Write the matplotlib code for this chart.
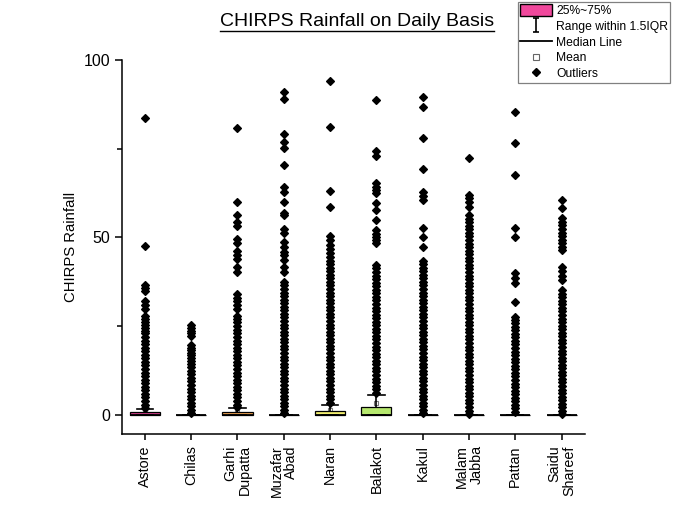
import matplotlib.pyplot as plt
from matplotlib.patches import Patch
from matplotlib.lines import Line2D
from matplotlib.path import Path

plt.rcParams['font.family'] = ['Liberation Sans', 'DejaVu Sans']

# stations (x categories)
stations = ['Astore', 'Chilas', 'Garhi\nDupatta', 'Muzafar\nAbad', 'Naran',
            'Balakot', 'Kakul', 'Malam\nJabba', 'Pattan', 'Saidu\nShareef']

# box statistics
q1 = [0, 0, 0, 0, 0, 0, 0, 0, 0, 0]
median = [0, 0, 0, 0, 0, 0, 0, 0, 0, 0]
q3 = [0.9, 0, 1.0, 0, 1.3, 2.3, 0, 0, 0, 0]
whis_lo = [0, 0, 0, 0, 0, 0, 0, 0, 0, 0]
whis_hi = [1.8, 0, 2.0, 0, 2.8, 5.8, 0, 0, 0, 0]
mean = [1.0, 0.6, 1.2, 2.0, 1.5, 3.5, 2.0, 1.8, 1.0, 1.5]

# outliers per station
out_astore = [83.5, 47.5, 36.5, 35.8, 35.0, 32.0, 31.0, 30.0, 28.0, 27.0, 26.3, 25.5,
              24.5, 23.8, 23.0, 22.0, 21.0, 20.0, 19.0, 18.0, 17.0, 16.0, 15.0, 14.0,
              13.0, 12.0, 11.0, 10.0, 9.0, 8.0, 7.0, 6.0, 5.0, 4.0, 3.0, 2.1]
out_chilas = [25.3, 24.5, 23.8, 23.0, 22.3, 19.7, 19.0, 18.3, 17.5, 16.8, 16.0, 15.3,
              14.5, 13.5, 12.5, 11.5, 10.5, 9.5, 8.5, 7.5, 6.5, 5.5, 4.5, 3.5, 2.5,
              1.5, 0.5]
out_garhi = [80.8, 59.9, 56.2, 54.5, 53.1, 49.5, 48.4, 46.3, 45.1, 43.9, 41.8, 40.4,
             34.0, 33.0, 32.0, 31.0, 30.0, 28.0, 27.0, 26.3, 25.0, 24.0, 23.0, 22.0,
             21.0, 20.0, 19.0, 18.0, 17.0, 16.0, 15.0, 14.0, 13.0, 12.0, 11.0, 10.0,
             9.0, 8.0, 7.0, 6.0, 5.0, 4.0, 3.0, 2.2]
out_muzafar = [90.8, 88.9, 79.1, 76.8, 75.3, 70.4, 64.3, 62.9, 60.1, 57.0, 56.4, 52.3,
               51.2, 48.8, 47.4, 46.0, 45.0, 43.7, 41.8, 40.4, 37.5, 36.5, 35.5, 34.5,
               33.5, 32.5, 31.5, 30.5, 29.5, 28.5, 27.5, 26.5, 25.5, 24.5, 23.5, 22.5,
               21.5, 20.5, 19.5, 18.5, 17.5, 16.5, 15.5, 14.5, 13.5, 12.5, 11.5, 10.5,
               9.5, 8.5, 7.5, 6.5, 5.5, 4.5, 3.5, 2.5, 1.5, 0.5]
out_naran = [93.9, 81.2, 63.2, 58.7, 50.4, 49.3, 48.0, 46.8, 45.5, 44.6, 43.5, 42.5,
             41.5, 40.5, 39.5, 38.5, 37.5, 36.5, 35.5, 34.5, 33.5, 32.5, 31.5, 30.5,
             29.5, 28.5, 27.5, 26.5, 25.5, 24.5, 23.5, 22.5, 21.5, 20.5, 19.5, 18.5,
             17.5, 16.5, 15.5, 14.5, 13.5, 12.5, 11.5, 10.5, 9.5, 8.5, 7.5, 6.5, 5.5,
             4.5, 3.5]
out_balakot = [88.7, 74.2, 72.8, 65.3, 64.3, 63.4, 62.5, 59.8, 57.6, 54.9, 52.1, 51.0,
               50.0, 49.2, 48.4, 42.3, 41.3, 40.3, 39.3, 38.3, 37.3, 36.3, 35.3, 34.3,
               33.3, 32.3, 31.3, 30.3, 29.3, 28.3, 27.3, 26.3, 25.3, 24.3, 23.3, 22.3,
               21.3, 20.3, 19.3, 18.3, 17.3, 16.3, 15.3, 14.3, 13.3, 12.3, 11.3, 10.3,
               9.3, 8.3, 7.3, 6.3]
out_kakul = [89.5, 86.8, 77.9, 69.3, 62.9, 61.8, 60.6, 52.6, 50.2, 47.4, 43.5, 42.5,
             41.5, 40.5, 39.5, 38.5, 37.5, 36.5, 35.5, 34.5, 33.5, 32.5, 31.5, 30.5,
             29.5, 28.5, 27.5, 26.5, 25.5, 24.5, 23.5, 22.5, 21.5, 20.5, 19.5, 18.5,
             17.5, 16.5, 15.5, 14.5, 13.5, 12.5, 11.5, 10.5, 9.5, 8.5, 7.5, 6.5, 5.5,
             4.5, 3.5, 2.5, 1.5, 0.5]
out_malam = [72.3, 62.0, 61.0, 60.0, 58.7, 56.3, 55.3, 54.3, 53.3, 52.3, 51.3, 50.3,
             49.3, 48.3, 47.3, 46.3, 45.3, 44.3, 43.3, 42.3, 41.3, 40.3, 39.3, 38.3,
             37.3, 36.3, 35.3, 34.3, 33.3, 32.3, 31.3, 30.3, 29.3, 28.3, 27.3, 26.3,
             25.3, 24.3, 23.3, 22.3, 21.3, 20.3, 19.3, 18.3, 17.3, 16.3, 15.3, 14.3,
             13.3, 12.3, 11.3, 10.3, 9.3, 8.3, 7.3, 6.3, 5.3, 4.3, 3.3, 2.3, 1.3, 0.3]
out_pattan = [85.4, 76.5, 67.6, 52.6, 50.2, 39.9, 38.5, 37.1, 31.8, 27.7, 26.8, 25.8,
              24.9, 23.9, 22.9, 21.9, 20.9, 19.9, 18.9, 17.9, 16.9, 15.9, 14.9, 13.9,
              12.9, 11.9, 10.9, 9.9, 8.9, 7.9, 6.9, 5.9, 4.9, 3.9, 2.9, 1.9, 0.9]
out_saidu = [60.6, 58.2, 55.4, 54.4, 53.4, 52.4, 51.4, 50.4, 49.4, 48.4, 47.4, 46.5,
             41.8, 40.5, 39.2, 38.0, 35.2, 34.2, 33.2, 32.2, 31.2, 30.2, 29.2, 28.2,
             27.2, 26.2, 25.2, 24.2, 23.2, 22.2, 21.2, 20.2, 19.2, 18.2, 17.2, 16.2,
             15.2, 14.2, 13.2, 12.2, 11.2, 10.2, 9.2, 8.2, 7.2, 6.2, 5.2, 4.2, 3.2,
             2.2, 1.2, 0.2]

outliers = [out_astore, out_chilas, out_garhi, out_muzafar, out_naran,
            out_balakot, out_kakul, out_malam, out_pattan, out_saidu]

box_colors = ['#d23c8a', '#f06a6a', '#f0a352', '#f2c95a', '#f2ee70',
              '#b6e86e', '#7ed6a0', '#6cc4e8', '#8a8ae8', '#c88ae8']

stats = []
for i in range(len(stations)):
    stats.append(dict(label=stations[i], q1=q1[i], med=median[i], q3=q3[i],
                      whislo=whis_lo[i], whishi=whis_hi[i], mean=mean[i],
                      fliers=outliers[i]))

fig = plt.figure(figsize=(6.8, 5.2), dpi=100)
ax = fig.add_axes([0.179, 0.165, 0.681, 0.72])

positions = list(range(1, len(stations) + 1))
bp = ax.bxp(stats, positions=positions, widths=0.65, capwidths=0.35,
            patch_artist=True, showmeans=True,
            boxprops=dict(edgecolor='black', linewidth=0.9),
            medianprops=dict(color='black', linewidth=1.3),
            whiskerprops=dict(color='black', linewidth=1.2),
            capprops=dict(color='black', linewidth=1.2),
            meanprops=dict(marker='s', markerfacecolor='white', markeredgecolor='#777777',
                           markersize=3.5, markeredgewidth=0.8, zorder=1.5),
            flierprops=dict(marker='D', markerfacecolor='black', markeredgecolor='black',
                            markersize=4.4, markeredgewidth=0.9, linestyle='none'))
for patch, c in zip(bp['boxes'], box_colors):
    patch.set_facecolor(c)

ax.set_xlim(0.5, 10.5)
ax.set_ylim(-5.35, 100)
ax.spines['top'].set_visible(False)
ax.spines['right'].set_visible(False)
ax.spines['left'].set_linewidth(1.1)
ax.spines['bottom'].set_linewidth(1.1)

ax.set_yticks([0, 50, 100])
ax.set_yticks([25, 75], minor=True)
ax.tick_params(axis='y', which='major', length=5, width=1.1, labelsize=11.5, pad=3)
ax.tick_params(axis='y', which='minor', length=3.5, width=1.1)
ax.tick_params(axis='x', which='major', length=4, width=1.1, labelsize=10.3, pad=4)
ax.set_xticks(positions)
ax.set_xticklabels(stations, rotation=90, linespacing=1.05, multialignment='right')

ax.set_ylabel('CHIRPS Rainfall', fontsize=10.7, labelpad=4)

title = fig.text(0.525, 0.958, 'CHIRPS Rainfall on Daily Basis', fontsize=14,
                 ha='center', va='center')

# legend
ibeam = Path([(-0.5, 1), (0.5, 1), (0, 1), (0, -1), (-0.5, -1), (0.5, -1)],
             [Path.MOVETO, Path.LINETO, Path.MOVETO, Path.LINETO, Path.MOVETO, Path.LINETO])
handles = [
    Patch(facecolor='#f0489c', edgecolor='black', linewidth=1.0),
    Line2D([], [], marker=ibeam, color='black', linestyle='none', markersize=10,
           markeredgewidth=1.2),
    Line2D([], [], color='black', linewidth=1.3),
    Line2D([], [], marker='s', markerfacecolor='white', markeredgecolor='#666666',
           linestyle='none', markersize=4, markeredgewidth=0.8),
    Line2D([], [], marker='D', color='black', linestyle='none', markersize=4),
]
labels = ['25%~75%', 'Range within 1.5IQR', 'Median Line', 'Mean', 'Outliers']
leg = fig.legend(handles, labels, loc='upper right', bbox_to_anchor=(0.986, 0.996),
                 fontsize=8.7, frameon=True, fancybox=False, edgecolor='#808080',
                 framealpha=1, borderpad=0.2, labelspacing=0.25, handlelength=2.6,
                 handletextpad=0.35, handleheight=1.05, borderaxespad=0)
leg.get_frame().set_linewidth(0.9)

# underline the title
fig.canvas.draw()
bb = title.get_window_extent().transformed(fig.transFigure.inverted())
fig.add_artist(Line2D([bb.x0, bb.x1], [bb.y0 - 0.002, bb.y0 - 0.002],
                      transform=fig.transFigure, color='black', linewidth=1.0))

fig.savefig('out.png', dpi=100)
